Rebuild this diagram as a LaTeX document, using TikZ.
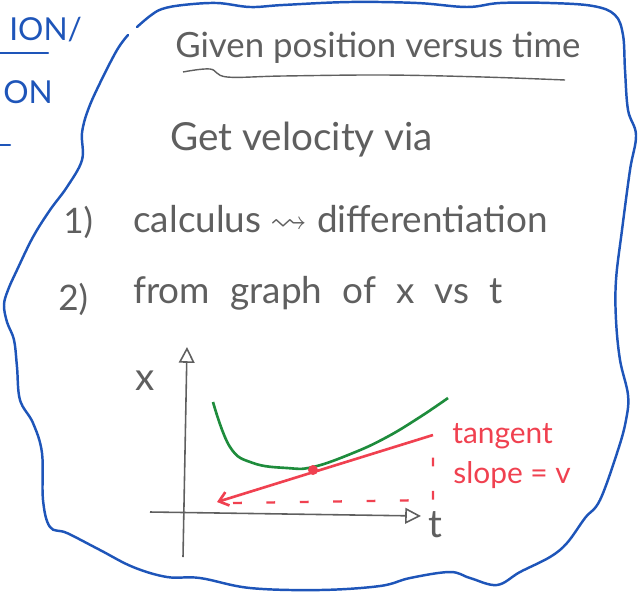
\documentclass[tikz,border=0pt]{standalone}
\usepackage{amssymb}
\usepackage{fontspec}
\setmainfont{Lato}
\usetikzlibrary{arrows.meta, calc, positioning}

\definecolor{penblue}{RGB}{30,85,185}
\definecolor{pencil}{RGB}{95,95,95}
\definecolor{pengreen}{RGB}{30,140,60}
\definecolor{penred}{RGB}{240,65,80}

\tikzset{
  hand/.style={text=pencil, inner sep=0pt, anchor=base west, font=\fontsize{#1}{24}\selectfont},
  hand/.default=20,
  redhand/.style={hand=17, text=penred},
  bluehand/.style={hand=18, text=penblue},
  axis/.style={pencil, line width=0.9pt, -{Triangle[open, length=9pt, width=9pt, line width=0.9pt]}},
  border/.style={penblue, line width=1.4pt, line cap=round},
}

\begin{document}
\begin{tikzpicture}[x=0.02cm, y=-0.02cm]
    \useasboundingbox (0,0) rectangle (638,592);
    % Scraps of the previous page
    \node[bluehand] (ion) at (9,40) {ION/};
    \node[bluehand] (on) at (3,103) {ON};
    \coordinate (ruleL) at (0,53);
    \coordinate (ruleR) at (48,53);
    \draw[border] (ruleL) -- (ruleR);
    \coordinate (dashL) at (0,145);
    \coordinate (dashR) at (10,145);
    \draw[border] (dashL) -- (dashR);
    % Wavy frame
    \draw[border] plot[smooth, tension=0.6] coordinates {
        (137,27) (150,16) (162,9) (183,5) (217,3) (250,7) (283,5) (350,2)
        (417,3) (467,7) (500,3) (550,3) (593,6) (615,15) (623,35) (625,70)
        (628,110) (636,135) (630,170) (622,230) (616,280) (616,320) (620,360)
        (628,395) (626,420) (618,450) (600,500) (585,518) (567,543) (550,557)
        (520,572) (497,585) (470,578) (450,572) (410,578) (380,586) (320,590)
        (250,588) (200,578) (167,577) (133,567) (100,550) (67,533) (50,527)
        (43,500) (42,453) (33,423) (20,400) (17,367) (14,340) (7,322) (4,305)
        (8,290) (17,270) (33,237) (50,210) (67,187) (82,160) (82,133) (88,110)
        (100,83) (117,50) (128,35)};
    % Text
    \node[hand=19.8] (title) at (175,57) {Given position versus time};
    \draw[pencil, line width=0.8pt] plot[smooth, tension=0.6] coordinates {
        (183,72) (210,69) (227,77) (283,76) (383,75) (483,77) (565,80)};
    \node[hand=22] (getv) at (170,150) {Get velocity via};
    \node[hand] (one) at (63,233) {1)};
    \node[hand=21] (calc) at (133,232) {calculus $\rightsquigarrow$ differentiation};
    \node[hand] (two) at (58,310) {2)};
    \node[hand=21] (graph) at (133,303) {\spaceskip=11.5pt from graph of x vs t};
    % Axes
    \coordinate (yaxbot) at (183,557);
    \coordinate (yaxtop) at (187,347);
    \coordinate (xaxleft) at (150,512);
    \coordinate (xaxright) at (421,516);
    \draw[axis] (yaxbot) -- (yaxtop);
    \draw[axis] (xaxleft) -- (xaxright);
    \node[hand=22] (xlab) at (135,390) {x};
    \node[hand=22] (tlab) at (428,537) {t};
    % Position curve
    \draw[pengreen, line width=1.5pt] plot[smooth, tension=0.7] coordinates {
        (213,402) (230,447) (253,463) (287,468) (313,467) (353,453)
        (387,437) (420,417) (448,398)};
    % Tangent and its slope triangle
    \coordinate (tanL) at (217,502);
    \coordinate (tanR) at (433,435);
    \coordinate (touch) at (313,470);
    \draw[penred, line width=1.5pt, {Straight Barb[length=5pt, width=8pt]}-] (tanL) -- (tanR);
    \fill[penred] (touch) circle (5);
    \coordinate (runL) at (233,503);
    \coordinate (corner) at (433,500);
    \coordinate (riseT) at (433,445);
    \draw[penred, line width=1.3pt, dash pattern=on 5pt off 14pt] (runL) -- (corner) -- (riseT);
    \node[redhand] (tang) at (452,443) {tangent};
    \node[redhand] (slope) at (453,483) {slope = v};
\end{tikzpicture}
\end{document}
